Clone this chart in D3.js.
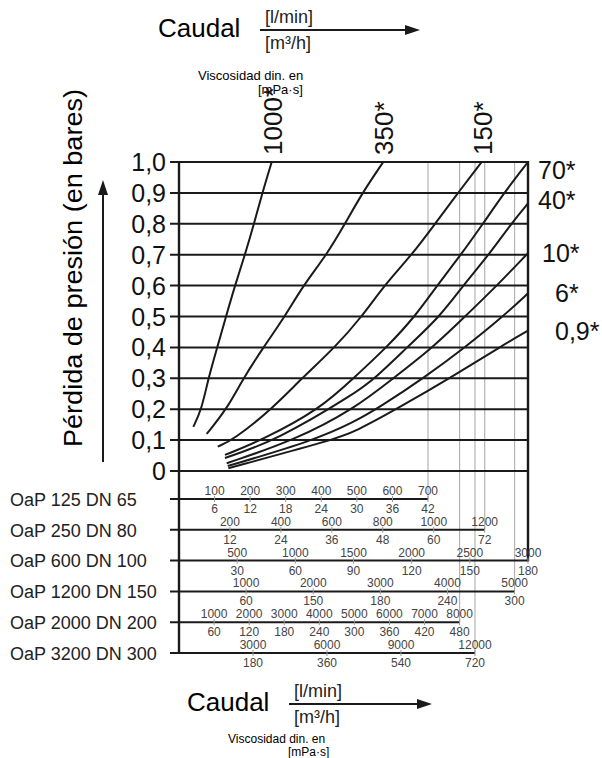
<!DOCTYPE html>
<html>
<head>
<meta charset="utf-8">
<script src="https://cdn.jsdelivr.net/npm/d3@7/dist/d3.min.js"></script>
<style>
  body { margin: 0; background: #fff; }
  svg { font-family: "Liberation Sans", Arial, sans-serif; }
</style>
</head>
<body>
<script>
// pressure drop axis (bar)
var pressureTicks  = [0, 0.1, 0.2, 0.3, 0.4, 0.5, 0.6, 0.7, 0.8, 0.9, 1.0];
var pressureLabels = ["0", "0,1", "0,2", "0,3", "0,4", "0,5", "0,6", "0,7", "0,8", "0,9", "1,0"];

// filter sizes, and the flow (l/min) that sits at the right border of the chart
var sizes     = ["OaP 125 DN 65", "OaP 250 DN 80", "OaP 600 DN 100", "OaP 1200 DN 150", "OaP 2000 DN 200", "OaP 3200 DN 300"];
var fullScale = [981, 1370, 3000, 5200, 9950, 14150];

// flow scales under the chart: l/min above the line, m3/h below
var flowLmin = [
  [100, 200, 300, 400, 500, 600, 700],
  [200, 400, 600, 800, 1000, 1200],
  [500, 1000, 1500, 2000, 2500, 3000],
  [1000, 2000, 3000, 4000, 5000],
  [1000, 2000, 3000, 4000, 5000, 6000, 7000, 8000],
  [3000, 6000, 9000, 12000]
];
var flowM3h = [
  ["6", "12", "18", "24", "30", "36", "42"],
  ["12", "24", "36", "48", "60", "72"],
  ["30", "60", "90", "120", "150", "180"],
  ["60", "150", "180", "240", "300"],
  ["60", "120", "180", "240", "300", "360", "420", "480"],
  ["180", "360", "540", "720"]
];

// viscosity curves [flow (OaP 600 l/min), pressure drop (bar)]
var viscosity = ["1000", "350", "150", "70", "40", "10", "6", "0,9"];
var curve1000 = [[123,0.143],[195,0.2],[252,0.3],[329,0.4],[404,0.5],[481,0.6],[567,0.7],[645,0.8],[716,0.9],[797,1.0]];
var curve350  = [[238,0.12],[410,0.2],[553,0.3],[725,0.4],[911,0.5],[1066,0.6],[1270,0.7],[1427,0.8],[1576,0.9],[1756,1.0]];
var curve150  = [[333,0.079],[464,0.1],[797,0.2],[1055,0.3],[1341,0.4],[1573,0.5],[1762,0.6],[2003,0.7],[2201,0.8],[2398,0.9],[2602,1.0]];
var curve70   = [[395,0.052],[713,0.1],[1212,0.2],[1513,0.305],[1785,0.4],[2029,0.5],[2218,0.6],[2424,0.7],[2613,0.8],[2794,0.9],[3000,1.0]];
var curve40   = [[395,0.042],[842,0.1],[1513,0.251],[1685,0.3],[1960,0.4],[2244,0.5],[2441,0.6],[2665,0.7],[2854,0.8],[3000,0.866]];
var curve10   = [[410,0.025],[997,0.1],[1513,0.203],[1840,0.3],[2183,0.4],[2458,0.5],[2733,0.6],[3000,0.705]];
var curve6    = [[419,0.016],[1169,0.1],[1513,0.16],[1728,0.207],[2115,0.304],[2458,0.4],[2785,0.5],[3000,0.575]];
var curve09   = [[424,0.009],[1315,0.1],[1513,0.127],[1900,0.207],[2344,0.304],[2774,0.405],[3000,0.454]];
var curves = [curve1000, curve350, curve150, curve70, curve40, curve10, curve6, curve09];

var W = 602, H = 758;
var SVG = d3.select("body").append("svg").attr("width", W).attr("height", H);

var x = d3.scaleLinear().domain([0, 3000]).range([179, 528]);
var y = d3.scaleLinear().domain([0, 1]).range([471, 162]);
var rowY = d3.scalePoint().domain(sizes).range([499, 653]);
var INK = "#1a1a1a";

// arrow helper
function arrow(g, x1, y1, x2, y2) {
  var a = Math.atan2(y2 - y1, x2 - x1), L = 15, hw = 5;
  var bx = x2 - L * Math.cos(a), by = y2 - L * Math.sin(a);
  g.append("line").attr("x1", x1).attr("y1", y1).attr("x2", bx).attr("y2", by)
    .attr("stroke", INK).attr("stroke-width", 2);
  g.append("path")
    .attr("d", "M" + x2 + "," + y2 +
      "L" + (bx + hw * Math.sin(a)) + "," + (by - hw * Math.cos(a)) +
      "L" + (bx - hw * Math.sin(a)) + "," + (by + hw * Math.cos(a)) + "Z")
    .attr("fill", INK);
}

// header block: Caudal [l/min]/[m3/h] ->
function header(g, cx, cy, len) {
  g.append("text").attr("x", cx).attr("y", cy + 10).attr("font-size", 26).attr("fill", "#000").text("Caudal");
  g.append("text").attr("x", cx + 107).attr("y", cy - 4).attr("font-size", 18).attr("fill", "#222").text("[l/min]");
  g.append("text").attr("x", cx + 107).attr("y", cy + 22).attr("font-size", 18).attr("fill", "#222").text("[m³/h]");
  arrow(g, cx + 102, cy + 3, cx + 102 + len, cy + 3);
}
function viscNote(g, cx, cy, fs) {
  g.append("text").attr("x", cx).attr("y", cy).attr("font-size", fs).text("Viscosidad din. en");
  g.append("text").attr("x", cx + 60).attr("y", cy + fs + 1).attr("font-size", fs).text("[mPa·s]");
}

var TOP = SVG.append("g");
header(TOP, 158, 27, 160);
viscNote(TOP, 198, 80, 13);

// y title + arrow
SVG.append("text")
  .attr("transform", "translate(82,268) rotate(-90)")
  .attr("text-anchor", "middle").attr("font-size", 25)
  .attr("textLength", 358).attr("lengthAdjust", "spacingAndGlyphs")
  .text("Pérdida de presión (en bares)");
arrow(SVG, 103, 462, 103, 180);

// gray markers where each flow scale ends
var GRID = SVG.append("g");
sizes.forEach(function(s, i) {
  var sc = d3.scaleLinear().domain([0, fullScale[i]]).range(x.range());
  var end = sc(d3.max(flowLmin[i]));
  if (end < x.range()[1] - 1) {
    GRID.append("line").attr("x1", end).attr("x2", end)
      .attr("y1", y(1)).attr("y2", rowY(s))
      .attr("stroke", "#b4b4b4").attr("stroke-width", 1.2);
  }
});

// horizontal pressure grid
GRID.selectAll(".hgrid").data(pressureTicks).enter().append("line")
  .attr("class", "hgrid")
  .attr("x1", 170).attr("x2", x.range()[1])
  .attr("y1", function(d) { return y(d); }).attr("y2", function(d) { return y(d); })
  .attr("stroke", INK).attr("stroke-width", 2);

GRID.selectAll(".ylab").data(pressureTicks).enter().append("text")
  .attr("class", "ylab")
  .attr("x", 166).attr("y", function(d) { return y(d); }).attr("dy", "0.36em")
  .attr("text-anchor", "end").attr("font-size", 25).attr("fill", "#111")
  .text(function(d, i) { return pressureLabels[i]; });

// left axis and right border
GRID.append("line").attr("x1", x(0)).attr("x2", x(0)).attr("y1", y(1) - 1).attr("y2", rowY(sizes[sizes.length - 1]) + 1)
  .attr("stroke", INK).attr("stroke-width", 2.4);
GRID.append("line").attr("x1", x.range()[1]).attr("x2", x.range()[1]).attr("y1", y(1) - 1).attr("y2", rowY(sizes[2]) + 1)
  .attr("stroke", INK).attr("stroke-width", 2.4);

// flow rows
var ROWS = SVG.append("g");
sizes.forEach(function(s, i) {
  var sc = d3.scaleLinear().domain([0, fullScale[i]]).range(x.range());
  var yy = rowY(s);
  var g = ROWS.append("g");
  g.append("text").attr("x", 10).attr("y", yy).attr("dy", "0.38em")
    .attr("font-size", 18).attr("fill", "#222").text(s);
  g.append("line").attr("x1", 170).attr("x2", sc(d3.max(flowLmin[i])))
    .attr("y1", yy).attr("y2", yy).attr("stroke", INK).attr("stroke-width", 2);
  g.selectAll(".tk").data(flowLmin[i]).enter().append("line")
    .attr("x1", function(d) { return sc(d); }).attr("x2", function(d) { return sc(d); })
    .attr("y1", yy - 3).attr("y2", yy + 3).attr("stroke", "#999");
  g.selectAll(".up").data(flowLmin[i]).enter().append("text")
    .attr("x", function(d) { return sc(d); }).attr("y", yy - 4)
    .attr("text-anchor", "middle").attr("font-size", 12).attr("fill", "#444")
    .text(function(d) { return d; });
  g.selectAll(".lo").data(flowM3h[i]).enter().append("text")
    .attr("x", function(d, j) { return sc(flowLmin[i][j]); }).attr("y", yy + 14)
    .attr("text-anchor", "middle").attr("font-size", 12).attr("fill", "#444")
    .text(function(d) { return d; });
});

// viscosity curves
var line = d3.line().x(function(d) { return x(d[0]); }).y(function(d) { return y(d[1]); }).curve(d3.curveBasis);
var CURVES = SVG.append("g");
CURVES.selectAll("path").data(curves).enter().append("path")
  .attr("d", line).attr("fill", "none").attr("stroke", INK).attr("stroke-width", 2);

// labels: top ones rotated above the chart, the rest right of the border
var rightNudge = { "70": [10, 8], "40": [10, -3], "10": [14, 0], "6": [27, 0], "0,9": [27, 0] };
curves.forEach(function(c, i) {
  var end = c[c.length - 1];
  var lab = viscosity[i] + "*";
  if (end[0] < 2900) {
    CURVES.append("text")
      .attr("transform", "translate(" + (x(end[0]) + 10) + "," + (y(end[1]) - 7) + ") rotate(-90)")
      .attr("font-size", 26).attr("fill", "#111").text(lab);
  } else {
    var n = rightNudge[viscosity[i]];
    CURVES.append("text").attr("x", x(end[0]) + n[0]).attr("y", y(end[1]) + n[1]).attr("dy", "0.36em")
      .attr("font-size", 25).attr("fill", "#111").text(lab);
  }
});

var BOTTOM = SVG.append("g");
header(BOTTOM, 187, 701, 143);
viscNote(BOTTOM, 228, 743, 12);
</script>
</body>
</html>
